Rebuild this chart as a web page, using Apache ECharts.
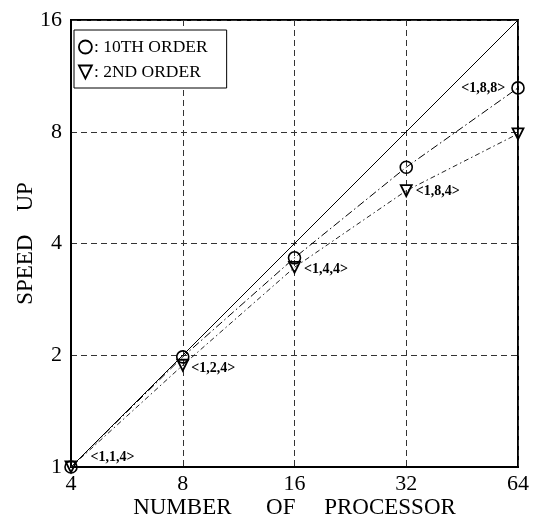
<!DOCTYPE html>
<html>
<head>
<meta charset="utf-8">
<script src="https://cdn.jsdelivr.net/npm/echarts@6/dist/echarts.min.js"></script>
<style>html,body{margin:0;padding:0;background:#fff}#c{width:538px;height:524px}</style>
</head>
<body>
<div id="c"></div>
<script>
// ---- data ----
var processors = [4, 8, 16, 32, 64];
var tenthOrder = [1, 1.98, 3.66, 6.42, 10.5];
var secondOrder = [1, 1.88, 3.45, 5.55, 7.9];
var idealX = [4, 64];
var idealY = [1, 16];
var tenthLabels = ['', '', '', '', '<1,8,8>'];
var secondLabels = ['<1,1,4>', '<1,2,4>', '<1,4,4>', '<1,8,4>', ''];
var xTicks = [4, 8, 16, 32, 64];
var yTicks = [1, 2, 4, 8, 16];
var seriesNames = ['10TH ORDER', '2ND ORDER'];

var FONT = 'Liberation Serif';
var labelStyles = {
  '<1,1,4>': {position: 'right', distance: 4, offset: [9, -10]},
  '<1,2,4>': {position: 'right', distance: 2, offset: [0, 3]},
  '<1,4,4>': {position: 'right', distance: 3, offset: [0, 2]},
  '<1,8,4>': {position: 'right', distance: 3, offset: [0, 1]},
  '<1,8,8>': {position: 'left', distance: 6, offset: [0, 0]}
};
function buildData(ys, labels) {
  return processors.map(function (x, i) {
    var item = {value: [x, ys[i]]};
    var t = labels[i];
    if (t) {
      var s = labelStyles[t];
      item.label = {show: true, formatter: t, position: s.position, distance: s.distance, offset: s.offset,
        fontFamily: FONT, fontWeight: 'bold', fontSize: 14, color: '#000'};
    }
    return item;
  });
}
var triPath = 'path://M0,0 L10,0 L5,10 Z';

var chart = echarts.init(document.getElementById('c'), null, {renderer: 'canvas'});
chart.setOption({
  animation: false,
  backgroundColor: '#fff',
  textStyle: {fontFamily: FONT},
  grid: {left: 71, right: 20, top: 20, bottom: 57, containLabel: false, outerBoundsMode: 'none',
    show: true, borderColor: '#000', borderWidth: 2},
  legend: {
    left: 74, top: 30, orient: 'vertical',
    backgroundColor: '#fff', borderColor: '#000', borderWidth: 1,
    padding: [8, 19, 7, 4], itemGap: 7,
    itemWidth: 13, itemHeight: 13,
    data: [
      {name: seriesNames[0], icon: 'circle'},
      {name: seriesNames[1], icon: triPath}
    ],
    itemStyle: {color: 'rgba(0,0,0,0)', borderColor: '#000', borderWidth: 1.8},
    formatter: function (n) { return ': ' + n; },
    textStyle: {fontFamily: FONT, fontSize: 17.5, color: '#000', padding: [0, 0, 0, -3]}
  },
  xAxis: {
    type: 'log', logBase: 2, min: xTicks[0], max: xTicks[xTicks.length - 1],
    splitNumber: 4,
    name: 'NUMBER      OF     PROCESSOR', nameLocation: 'middle', nameGap: 29,
    nameMoveOverlap: false,
    nameTextStyle: {fontFamily: FONT, fontSize: 23, color: '#000'},
    axisLine: {show: true, lineStyle: {color: '#000', width: 2}},
    axisTick: {show: false},
    axisLabel: {fontFamily: FONT, fontSize: 22, color: '#000', margin: 6},
    splitLine: {show: true, lineStyle: {color: '#333', width: 1, type: [6, 4]}}
  },
  yAxis: {
    type: 'log', logBase: 2, min: yTicks[0], max: yTicks[yTicks.length - 1],
    splitNumber: 4,
    name: 'SPEED    UP', nameLocation: 'middle', nameGap: 34,
    nameMoveOverlap: false,
    nameTextStyle: {fontFamily: FONT, fontSize: 23, color: '#000'},
    axisLine: {show: true, lineStyle: {color: '#000', width: 2}},
    axisTick: {show: false},
    axisLabel: {fontFamily: FONT, fontSize: 22, color: '#000', margin: 9},
    splitLine: {show: true, lineStyle: {color: '#333', width: 1, type: [6, 4]}}
  },
  series: [
    {
      type: 'line', name: 'ideal', silent: true, symbol: 'none',
      data: idealX.map(function (x, i) { return [x, idealY[i]]; }),
      lineStyle: {color: '#000', width: 1}, z: 2
    },
    {
      type: 'line', name: seriesNames[0], clip: false,
      symbol: 'circle', symbolSize: 12,
      data: buildData(tenthOrder, tenthLabels),
      itemStyle: {color: 'rgba(0,0,0,0)', borderColor: '#000', borderWidth: 1.6},
      lineStyle: {color: '#000', width: 1, type: [8, 3, 1.5, 3]}, z: 3
    },
    {
      type: 'line', name: seriesNames[1], clip: false,
      symbol: triPath, symbolSize: 11,
      data: buildData(secondOrder, secondLabels),
      itemStyle: {color: 'rgba(0,0,0,0)', borderColor: '#000', borderWidth: 1.8},
      lineStyle: {color: '#222', width: 1, type: [5, 3, 1.5, 3]}, z: 3
    }
  ]
});
</script>
</body>
</html>
